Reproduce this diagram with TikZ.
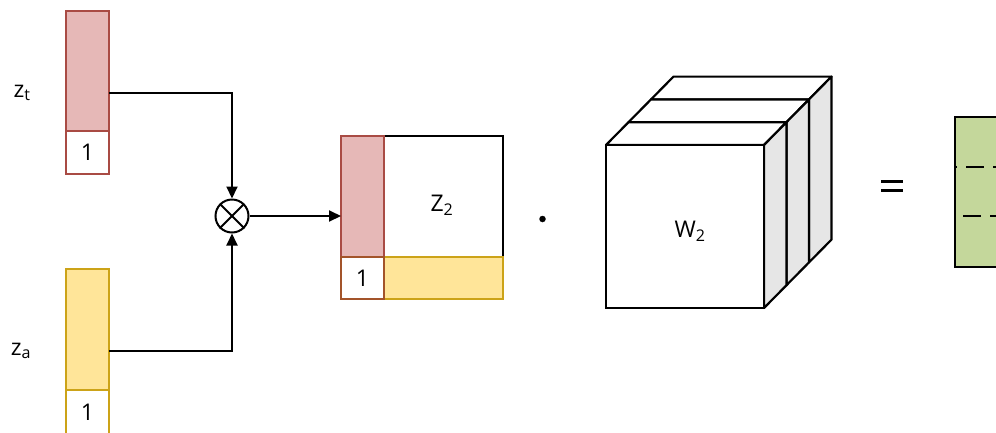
\documentclass[tikz,border=0pt]{standalone}
\usepackage{fontspec}
\setmainfont{Open Sans}
\usetikzlibrary{arrows.meta,calc}

\definecolor{pinkfill}{HTML}{E6B8B7}
\definecolor{pinkline}{HTML}{A94B44}
\definecolor{yelfill}{HTML}{FFE599}
\definecolor{yelline}{HTML}{CCA318}
\definecolor{brownline}{HTML}{A3542A}
\definecolor{sidegray}{HTML}{E6E6E6}
\definecolor{greenfill}{HTML}{C4D79B}

\tikzset{
  box/.style={draw, line width=2.2pt, inner sep=0pt, outer sep=0pt},
  tbar/.style={box, draw=pinkline, fill=pinkfill},
  abar/.style={box, draw=yelline, fill=yelfill},
  onebox/.style={box, fill=white, font=\fontsize{23}{27}\selectfont},
  lab/.style={inner sep=0pt, font=\fontsize{23}{27}\selectfont},
  conn/.style={line width=2pt, -{Triangle[length=12pt,width=11pt]}},
  cubeface/.style={draw, line width=2.2pt, line join=round},
}

\begin{document}
\begin{tikzpicture}[x=1pt, y=-1pt]
\useasboundingbox (0,0) rectangle (996,432);

% input vectors with their bias entries
\node[tbar, minimum width=43pt, minimum height=120pt] (ztbar) at (87.5,71) {};
\node[onebox, draw=pinkline, minimum width=43pt, minimum height=43pt] (ztone) at (87.5,152.5) {1};
\node[abar, minimum width=43pt, minimum height=121pt] (zabar) at (87.5,329.5) {};
\node[onebox, draw=yelline, minimum width=43pt, minimum height=44pt] (zaone) at (87.5,412) {1};

\node[lab] (ztlab) at (22,93) {z\textsubscript{t}};
\node[lab] (zalab) at (21,351) {z\textsubscript{a}};

% outer product
\node[circle, draw, line width=2pt, minimum size=33pt, inner sep=0pt] (mul) at (232,216) {};
\draw[line width=2pt] (mul.north west) -- (mul.south east);
\draw[line width=2pt] (mul.north east) -- (mul.south west);

\draw[conn] (ztbar.east |- ztlab) -| (mul.north);
\draw[conn] (zabar.east |- zalab) -| (mul.south);

% Z2 matrix
\node[box, fill=white, minimum width=162pt, minimum height=163pt] (Z) at (422,217.5) {};
\node[abar, minimum width=119pt, minimum height=42pt] (zrow) at (443.5,278) {};
\node[tbar, minimum width=43pt, minimum height=121pt] (zcol) at (362.5,196.5) {};
\node[onebox, draw=brownline, minimum width=43pt, minimum height=42pt] (zone) at (362.5,278) {1};
\node[lab] (zlab) at (442,205) {Z\textsubscript{2}};

\draw[conn] (mul.east) -- (zcol.west |- mul.east);

% product dot
\node[circle, fill, inner sep=0pt, minimum size=6.5pt] (dot) at (542.5,219) {};

% weight tensor W2: three slabs behind the front face
\foreach \k in {3,2,1} {
  \pgfmathsetmacro{\ax}{22.5*(\k-1)}
  \pgfmathsetmacro{\ay}{-22.8*(\k-1)}
  \pgfmathsetmacro{\bx}{22.5*\k}
  \pgfmathsetmacro{\by}{-22.8*\k}
  \draw[cubeface, fill=white]
    (606+\ax,145+\ay) -- (764+\ax,145+\ay) -- (764+\bx,145+\by) -- (606+\bx,145+\by) -- cycle;
  \draw[cubeface, fill=sidegray]
    (764+\ax,145+\ay) -- (764+\ax,308+\ay) -- (764+\bx,308+\by) -- (764+\bx,145+\by) -- cycle;
}
\node[box, fill=white, minimum width=158pt, minimum height=163pt] (W) at (685,226.5) {};
\node[lab] (wlab) at (690,231) {W\textsubscript{2}};

% equals sign
\node[inner sep=0pt] (eq) at (892,186) {};
\draw[line width=3pt] ([xshift=-11pt,yshift=-4.5pt]eq.center) -- ([xshift=11pt,yshift=-4.5pt]eq.center);
\draw[line width=3pt] ([xshift=-11pt,yshift=4.5pt]eq.center) -- ([xshift=11pt,yshift=4.5pt]eq.center);

% result
\node[box, fill=greenfill, minimum width=60pt, minimum height=150pt, anchor=north west] (res) at (955,117) {};
\coordinate (cut1) at (1015,167);
\coordinate (cut2) at (1015,216);
\draw[line width=2.2pt, dash pattern=on 18pt off 9pt, dash phase=16pt] (res.west |- cut1) -- (cut1);
\draw[line width=2.2pt, dash pattern=on 18pt off 9pt, dash phase=19pt] (res.west |- cut2) -- (cut2);
\end{tikzpicture}
\end{document}
